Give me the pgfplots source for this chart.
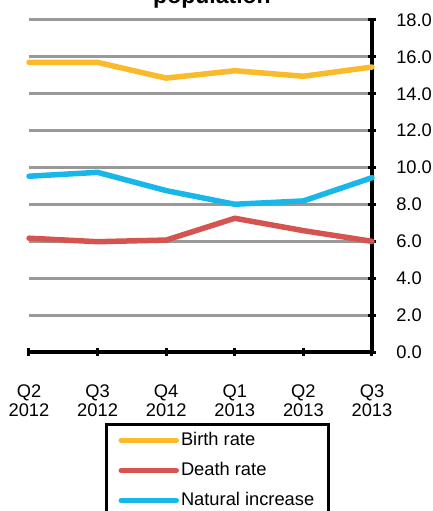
\documentclass[border=0pt]{standalone}
\usepackage{pgfplots}
\pgfplotsset{compat=1.18}
\usepackage{fontspec}
\setmainfont{Liberation Sans}

\definecolor{birth}{HTML}{FBBA29}
\definecolor{death}{HTML}{D6544F}
\definecolor{natural}{HTML}{18B7E9}
\definecolor{gridgray}{HTML}{999999}

\begin{document}
\begin{tikzpicture}
\fontsize{18.3pt}{21pt}\selectfont
\begin{axis}[%
  name=ax,
  scale only axis,
  width=343pt, height=332pt,
  xmin=0, xmax=5, ymin=0, ymax=18,
  axis x line*=bottom,
  axis y line*=right,
  axis line style={line width=3.5pt, black},
  xtick={0,...,5},
  xticklabels={Q2\\2012,Q3\\2012,Q4\\2012,Q1\\2013,Q2\\2013,Q3\\2013},
  xticklabel style={align=center, font=\fontsize{18.3pt}{19pt}\selectfont, yshift=-22pt},
  ytick={0,2,...,18},
  yticklabel style={/pgf/number format/.cd, fixed, fixed zerofill, precision=1,
    /tikz/.cd, font=\fontsize{18.3pt}{21pt}\selectfont, xshift=14pt},
  /pgf/number format/assume math mode=true,
  tick align=center,
  major tick length=8pt,
  tick style={line width=3pt, black},
  ymajorgrids,
  grid style={line width=3pt, gridgray},
  clip=false,
  legend style={at={(0.2216,-0.2139)}, anchor=north west,
    draw=black, line width=3pt, inner xsep=12pt, inner ysep=6pt,
    row sep=10pt, font=\fontsize{18.3pt}{21pt}\selectfont,
    nodes={inner sep=2pt},
    column 2/.style={nodes={text width=139pt, align=left}}},
  legend cell align=left,
  legend image code/.code={\draw[#1] (0pt,0pt) -- (55pt,0pt);},
  every axis plot/.append style={line width=5.5pt, line cap=round, line join=round},
]
\addplot[birth] coordinates {(0,15.7) (1,15.7) (2,14.85) (3,15.25) (4,14.95) (5,15.45)};
\addlegendentry{Birth rate}
\addplot[death] coordinates {(0,6.17) (1,5.98) (2,6.07) (3,7.25) (4,6.58) (5,6.0)};
\addlegendentry{Death rate}
\addplot[natural] coordinates {(0,9.53) (1,9.74) (2,8.75) (3,8.01) (4,8.19) (5,9.45)};
\addlegendentry{Natural increase}
\end{axis}
\node[anchor=base, font=\bfseries\fontsize{23pt}{27pt}\selectfont]
  at ([xshift=183pt,yshift=348pt]ax.south west) {population};
\pgfresetboundingbox
\path ([xshift=-29pt,yshift=352pt]ax.south west) rectangle ([xshift=404pt,yshift=-159pt]ax.south west);
\end{tikzpicture}
\end{document}
